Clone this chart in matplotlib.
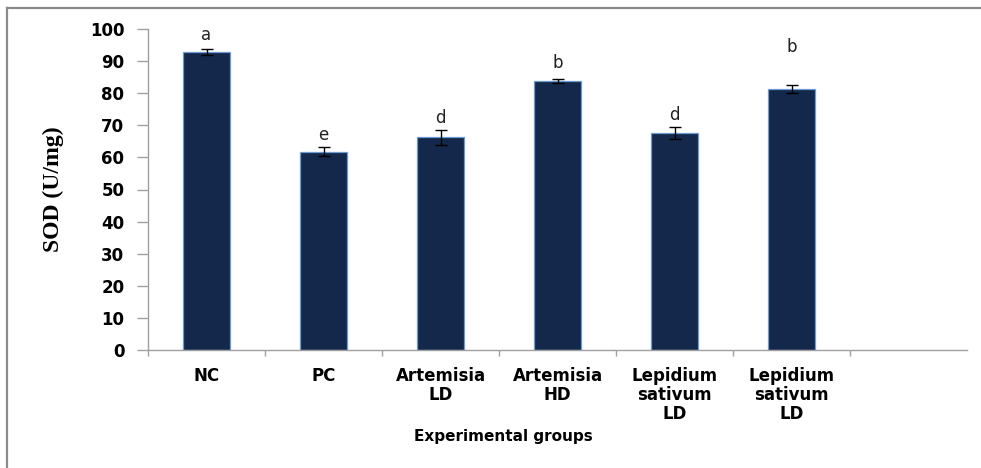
import matplotlib
matplotlib.use("Agg")
import matplotlib.pyplot as plt
from matplotlib.lines import Line2D
import numpy as np

# SOD activity per experimental group
groups = ["NC", "PC", "Artemisia\nLD", "Artemisia\nHD",
          "Lepidium\nsativum\nLD", "Lepidium\nsativum\nLD"]
sod_means = [92.8, 61.8, 66.3, 83.9, 67.7, 81.4]
sod_errors = [1.0, 1.4, 2.3, 0.6, 1.9, 1.3]
letters = ["a", "e", "d", "b", "d", "b"]
letter_heights = [98.1, 67.0, 72.3, 89.4, 73.2, 94.4]
y_ticks = list(range(0, 101, 10))

n_slots = 7  # one empty category slot after the last group

fig = plt.figure(figsize=(9.81, 4.68), dpi=100)
ax = fig.add_axes([148 / 981, 1 - 350 / 468, (967 - 148) / 981, (350 - 29) / 468])

x = np.arange(len(groups))
ax.bar(x, sod_means, width=0.40, color="#13284a", edgecolor="#6b9bd0",
       linewidth=0.9, zorder=2)
ax.errorbar(x, sod_means, yerr=sod_errors, fmt="none", ecolor="black",
            elinewidth=1.0, capsize=4.5, capthick=1.0, zorder=3)

for xi, lab, h in zip(x, letters, letter_heights):
    ax.text(xi, h, lab, ha="center", va="center", fontsize=12,
            family="DejaVu Sans", color="#222222")

ax.set_xlim(-0.5, n_slots - 0.5)
ax.set_ylim(0, 100)
ax.set_yticks(y_ticks)
ax.set_yticklabels([str(v) for v in y_ticks], fontsize=12, fontweight="bold")

ax.set_xticks(x)
ax.set_xticklabels(groups, fontsize=12, fontweight="bold", linespacing=1.08)
ax.set_xticks(np.arange(n_slots) - 0.5, minor=True)
ax.tick_params(axis="x", which="major", length=0, pad=12)
ax.tick_params(axis="x", which="minor", length=4, width=1, color="#a0a0a0",
               direction="out")
ax.tick_params(axis="y", length=8, width=1, color="#a0a0a0", direction="out",
               pad=9)

for side in ("top", "right"):
    ax.spines[side].set_visible(False)
for side in ("left", "bottom"):
    ax.spines[side].set_color("#a0a0a0")
    ax.spines[side].set_linewidth(1.0)

ax.set_ylabel("SOD (U/mg)", family="Liberation Serif", fontweight="bold",
              fontsize=17)
ax.yaxis.set_label_coords(-0.103, 0.5)

fig.text(503 / 981, 1 - 437 / 468, "Experimental groups", ha="center",
         va="center", fontsize=11, fontweight="bold")

# outer frame (left and top edges)
fig.add_artist(Line2D([7 / 981, 7 / 981], [0, 1 - 8 / 468],
                      transform=fig.transFigure, color="#8a8a8a", lw=1.6))
fig.add_artist(Line2D([7 / 981, 1], [1 - 8 / 468, 1 - 8 / 468],
                      transform=fig.transFigure, color="#8a8a8a", lw=1.6))

fig.savefig("out.png", dpi=100)
